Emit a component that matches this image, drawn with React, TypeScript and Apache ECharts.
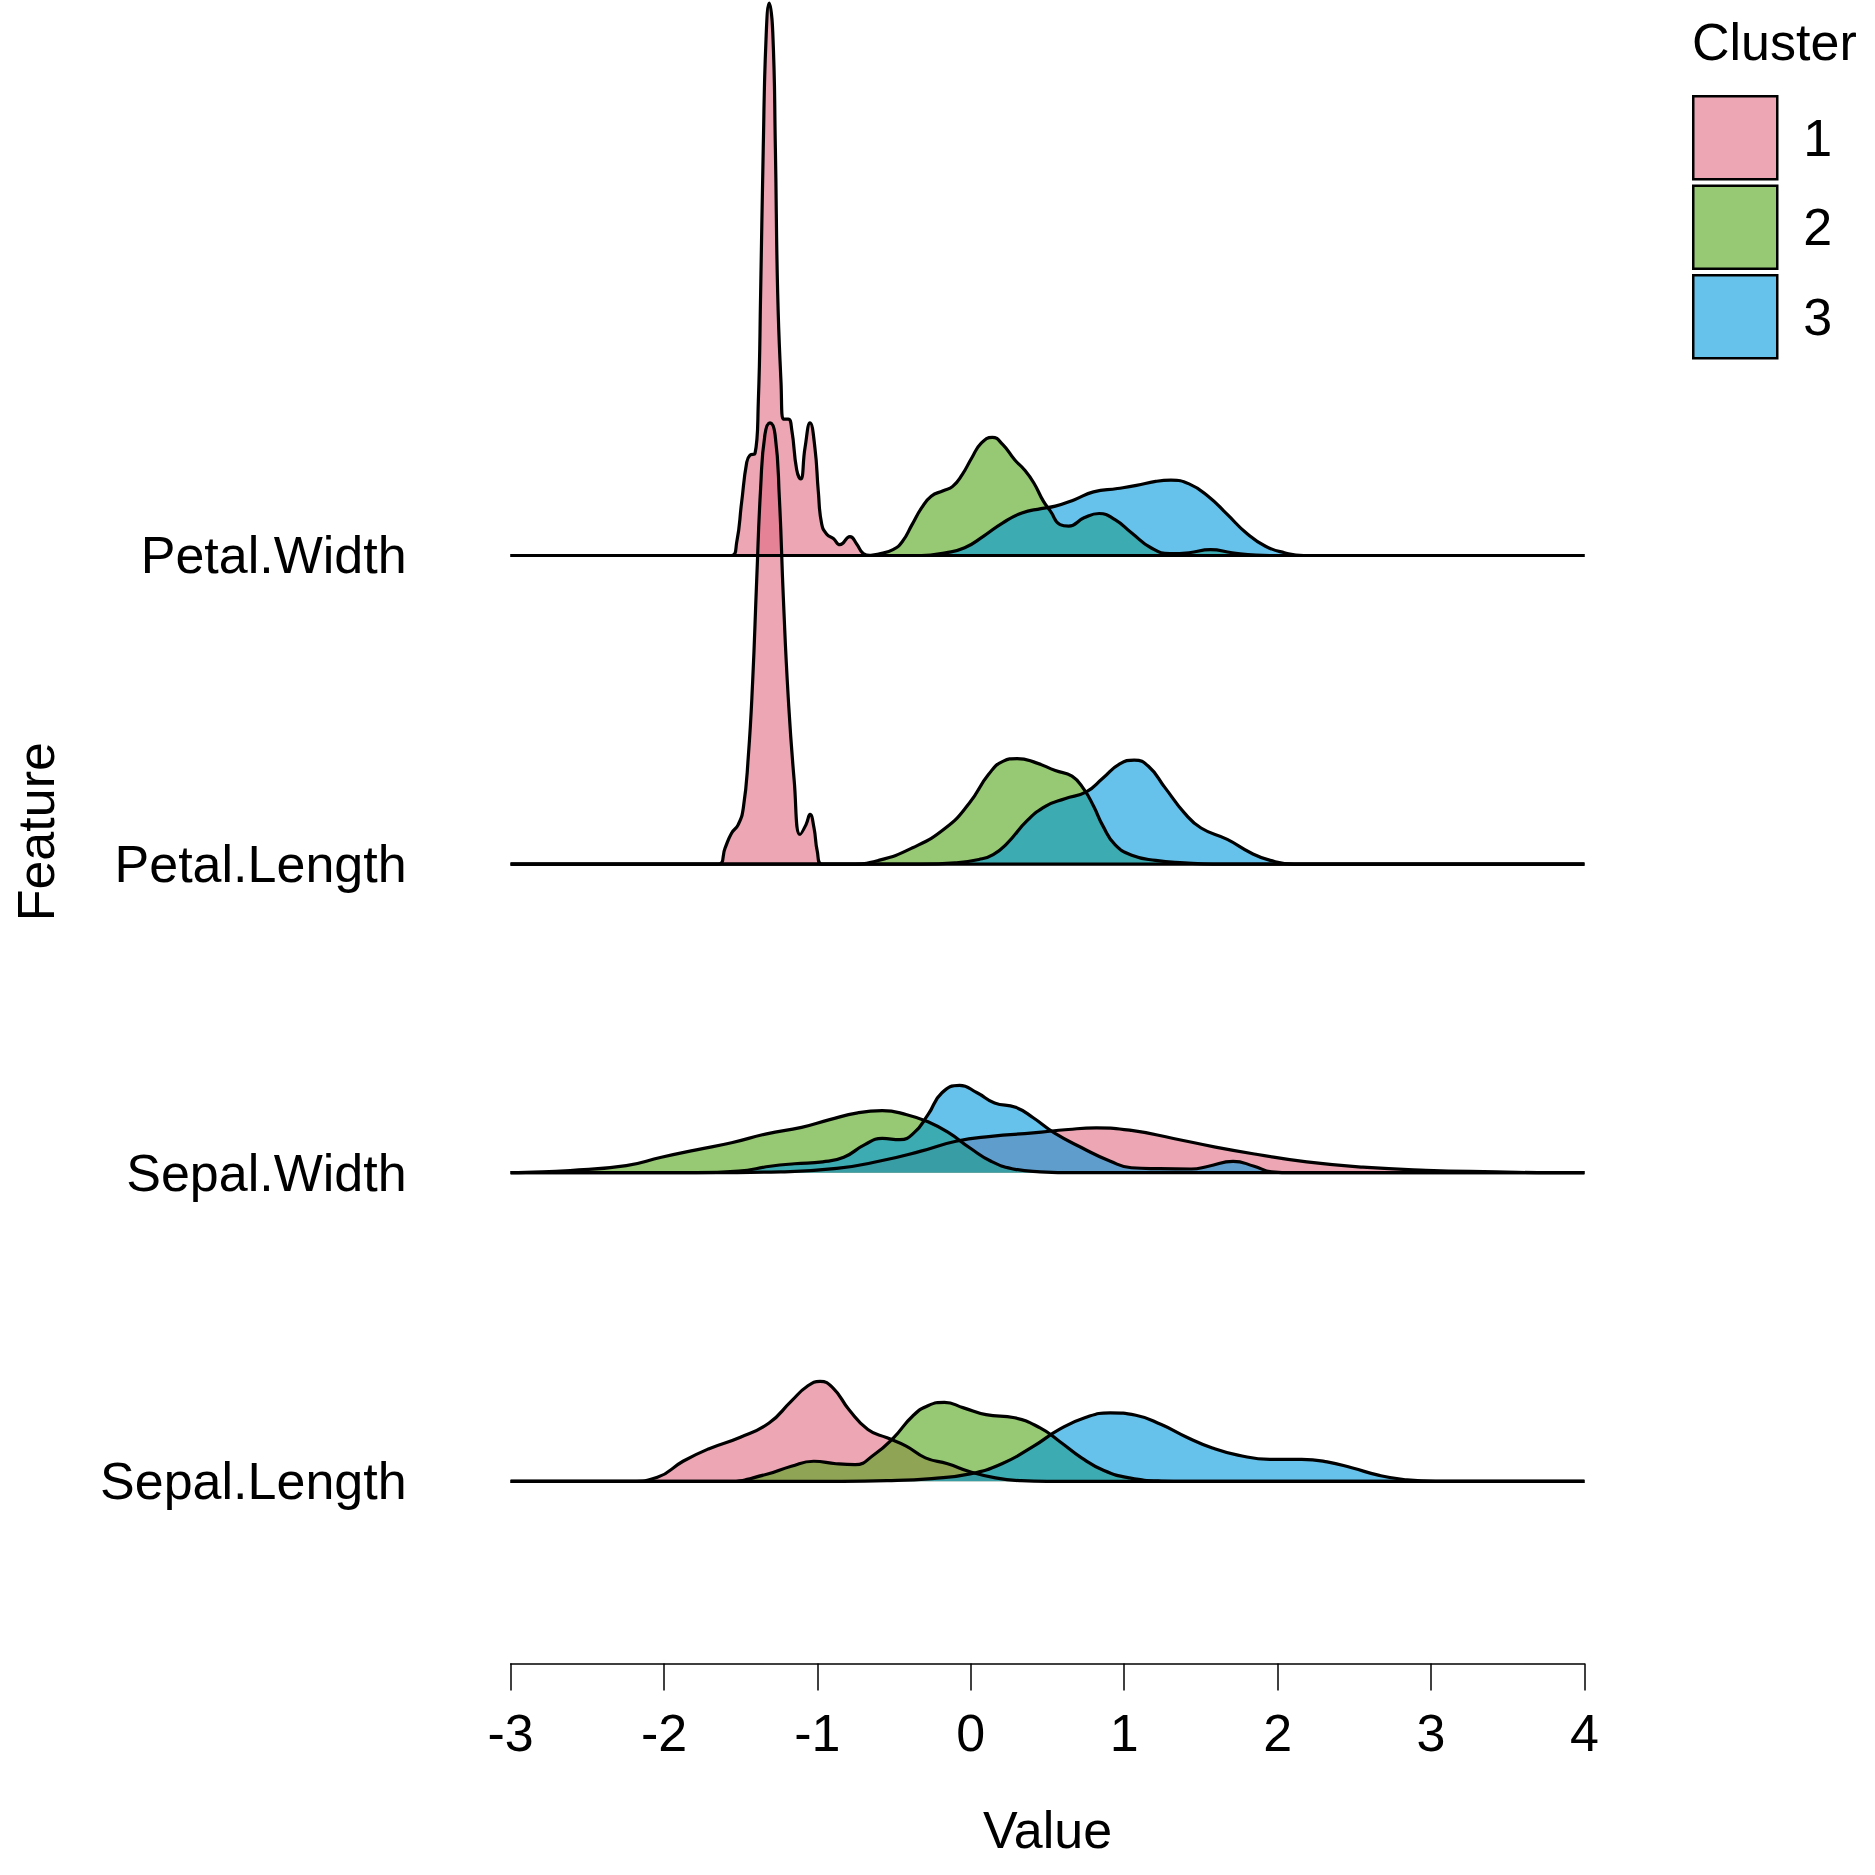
import React, { useEffect, useRef } from "react";
import * as echarts from "echarts";

// Ridge rows (baseline 1..4 from bottom)
const features = ["Sepal.Length", "Sepal.Width", "Petal.Length", "Petal.Width"];
const clusters = ["1", "2", "3"];
const clusterFills = ["rgba(225,106,130,0.6)", "rgba(82,163,22,0.6)", "rgba(0,153,220,0.6)"];
const xTicks = [-3, -2, -1, 0, 1, 2, 3, 4];

// Scaled density heights [value, height] (1 = spacing between ridges)
const petalWidth1 = [
  [-1.56, 0], [-1.526, 0.043], [-1.494, 0.172], [-1.461, 0.301], [-1.439, 0.325], [-1.407, 0.33],
  [-1.385, 0.5], [-1.37, 0.852], [-1.353, 1.321], [-1.335, 1.672], [-1.314, 1.79], [-1.291, 1.696],
  [-1.274, 1.321], [-1.259, 0.852], [-1.237, 0.559], [-1.222, 0.442], [-1.19, 0.442], [-1.167, 0.407],
  [-1.135, 0.278], [-1.109, 0.248], [-1.081, 0.348], [-1.048, 0.43], [-1.016, 0.348], [-0.994, 0.207],
  [-0.972, 0.102], [-0.939, 0.069], [-0.896, 0.055], [-0.853, 0.035], [-0.788, 0.061], [-0.744, 0.0375],
  [-0.701, 0.006], [-0.657, 0],
];
const petalWidth2 = [
  [-0.694, 0], [-0.601, 0.005], [-0.507, 0.019], [-0.445, 0.046], [-0.383, 0.1], [-0.321, 0.154],
  [-0.258, 0.192], [-0.18, 0.21], [-0.118, 0.224], [-0.056, 0.262], [0.006, 0.316], [0.068, 0.364],
  [0.14, 0.383], [0.209, 0.359], [0.286, 0.31], [0.349, 0.278], [0.411, 0.235], [0.473, 0.176],
  [0.52, 0.143], [0.582, 0.1], [0.638, 0.095], [0.738, 0.122], [0.837, 0.136], [0.94, 0.116],
  [1.049, 0.073], [1.174, 0.025], [1.298, 0.006], [1.423, 0.009], [1.563, 0.019], [1.703, 0.009],
  [1.859, 0.001], [1.95, 0],
];
const petalWidth3 = [
  [-0.321, 0], [-0.165, 0.009], [-0.04, 0.025], [0.084, 0.063], [0.209, 0.106], [0.333, 0.138],
  [0.458, 0.152], [0.551, 0.16], [0.676, 0.181], [0.8, 0.206], [0.956, 0.217], [1.08, 0.227],
  [1.205, 0.24], [1.305, 0.244], [1.423, 0.232], [1.547, 0.192], [1.672, 0.133], [1.796, 0.073],
  [1.921, 0.03], [2.045, 0.009], [2.17, 0],
];
const petalLength1 = [
  [-1.646, 0], [-1.602, 0.052], [-1.559, 0.101], [-1.516, 0.128], [-1.483, 0.182], [-1.451, 0.344],
  [-1.422, 0.593], [-1.396, 0.917], [-1.37, 1.219], [-1.342, 1.392], [-1.309, 1.43], [-1.276, 1.392],
  [-1.248, 1.187], [-1.222, 0.863], [-1.19, 0.539], [-1.151, 0.269], [-1.113, 0.096], [-1.074, 0.128],
  [-1.048, 0.161], [-1.022, 0.117], [-1.001, 0.042], [-0.972, 0],
];
const petalLength2 = [
  [-0.788, 0], [-0.601, 0.012], [-0.383, 0.052], [-0.165, 0.117], [-0.009, 0.198], [0.115, 0.29],
  [0.209, 0.333], [0.302, 0.342], [0.427, 0.328], [0.551, 0.303], [0.66, 0.285], [0.738, 0.242],
  [0.8, 0.188], [0.862, 0.123], [0.94, 0.063], [1.049, 0.029], [1.205, 0.012], [1.392, 0.004], [1.578, 0],
];
const petalLength3 = [
  [-0.321, 0], [-0.103, 0.004], [0.053, 0.015], [0.146, 0.031], [0.24, 0.069], [0.364, 0.139],
  [0.489, 0.188], [0.613, 0.212], [0.753, 0.234], [0.862, 0.279], [0.971, 0.325], [1.065, 0.337],
  [1.158, 0.317], [1.267, 0.247], [1.392, 0.166], [1.501, 0.117], [1.672, 0.08], [1.827, 0.036],
  [1.952, 0.012], [2.108, 0],
];
const sepalWidth1 = [
  [-1.697, 0], [-1.24, 0.003], [-0.874, 0.014], [-0.6, 0.037], [-0.325, 0.07], [-0.097, 0.102],
  [0.132, 0.118], [0.407, 0.129], [0.635, 0.14], [0.818, 0.145], [1.047, 0.137], [1.321, 0.111],
  [1.595, 0.083], [1.87, 0.059], [2.19, 0.035], [2.556, 0.018], [2.967, 0.008], [3.425, 0.003], [3.79, 0],
];
const sepalWidth2 = [
  [-2.9, 0.001], [-2.612, 0.007], [-2.246, 0.023], [-2.017, 0.05], [-1.789, 0.074], [-1.56, 0.097],
  [-1.331, 0.126], [-1.103, 0.147], [-0.92, 0.172], [-0.737, 0.194], [-0.577, 0.201], [-0.417, 0.188],
  [-0.279, 0.165], [-0.142, 0.129], [-0.005, 0.08], [0.132, 0.037], [0.269, 0.013], [0.452, 0.003], [0.681, 0],
];
const sepalWidth3 = [
  [-1.789, 0], [-1.514, 0.005], [-1.308, 0.021], [-1.148, 0.029], [-0.965, 0.035], [-0.828, 0.05],
  [-0.691, 0.091], [-0.577, 0.111], [-0.462, 0.107], [-0.371, 0.129], [-0.279, 0.188], [-0.188, 0.259],
  [-0.073, 0.283], [0.041, 0.259], [0.155, 0.226], [0.292, 0.212], [0.407, 0.178], [0.544, 0.129],
  [0.727, 0.08], [0.91, 0.037], [1.047, 0.016], [1.23, 0.013], [1.436, 0.012], [1.55, 0.021],
  [1.71, 0.037], [1.847, 0.021], [1.961, 0.003], [2.099, 0],
];
const sepalLength1 = [
  [-2.209, 0], [-2.043, 0.013], [-1.876, 0.065], [-1.71, 0.105], [-1.502, 0.143], [-1.315, 0.189],
  [-1.17, 0.26], [-1.066, 0.308], [-0.983, 0.324], [-0.899, 0.303], [-0.795, 0.233], [-0.671, 0.168],
  [-0.546, 0.141], [-0.421, 0.114], [-0.296, 0.076], [-0.151, 0.057], [-0.005, 0.031], [0.161, 0.011],
  [0.327, 0.002], [0.494, 0],
];
const sepalLength2 = [
  [-1.585, 0], [-1.336, 0.022], [-1.17, 0.049], [-1.024, 0.065], [-0.879, 0.057], [-0.754, 0.054],
  [-0.629, 0.087], [-0.504, 0.141], [-0.38, 0.211], [-0.276, 0.246], [-0.172, 0.256], [-0.047, 0.238],
  [0.099, 0.216], [0.286, 0.206], [0.452, 0.173], [0.577, 0.13], [0.722, 0.076], [0.868, 0.035],
  [1.034, 0.011], [1.242, 0.001], [1.408, 0],
];
const sepalLength3 = [
  [-0.837, 0], [-0.546, 0.002], [-0.255, 0.009], [-0.005, 0.024], [0.203, 0.057], [0.41, 0.114],
  [0.577, 0.168], [0.743, 0.206], [0.909, 0.222], [1.076, 0.214], [1.242, 0.184], [1.408, 0.143],
  [1.575, 0.108], [1.741, 0.085], [1.949, 0.071], [2.157, 0.071], [2.323, 0.063], [2.489, 0.043],
  [2.656, 0.02], [2.822, 0.006], [3.03, 0],
];

const ridges: { [k: string]: number[][][] } = {
  "Petal.Width": [petalWidth1, petalWidth2, petalWidth3],
  "Petal.Length": [petalLength1, petalLength2, petalLength3],
  "Sepal.Width": [sepalWidth1, sepalWidth2, sepalWidth3],
  "Sepal.Length": [sepalLength1, sepalLength2, sepalLength3],
};

const FONT = "'Liberation Sans', Arial, Helvetica, sans-serif";

export default function App() {
  const ref = useRef<HTMLDivElement>(null);
  useEffect(() => {
    if (!ref.current) return;
    const chart = echarts.init(ref.current, null, { renderer: "svg" });
    const xMin = xTicks[0];
    const xMax = xTicks[xTicks.length - 1];
    const series: any[] = [];
    const drawOrder = ["Petal.Width", "Petal.Length", "Sepal.Width", "Sepal.Length"];
    drawOrder.forEach((feat) => {
      const base = features.indexOf(feat) + 1;
      ridges[feat].forEach((pts, c) => {
        series.push({
          type: "line",
          name: clusters[c],
          data: [[xMin, base], ...pts.map((p) => [p[0], base + p[1]]), [xMax, base]],
          showSymbol: false,
          symbol: "none",
          smooth: 0.5,
          clip: false,
          silent: true,
          lineStyle: { color: "#000", width: 3.2, join: "round" },
          itemStyle: { color: clusterFills[c] },
          areaStyle: { color: clusterFills[c], opacity: 1, origin: base },
        });
      });
    });
    series.push({
      type: "scatter",
      name: "labels",
      data: features.map((f, i) => ({ name: f, value: [xMin, i + 1] })),
      symbolSize: 0,
      silent: true,
      itemStyle: { opacity: 1 },
      label: {
        show: true,
        position: "left",
        distance: 104,
        formatter: "{b}",
        fontSize: 52,
        color: "#000",
        opacity: 1,
        fontFamily: FONT,
      },
    });

    chart.setOption({
      animation: false,
      backgroundColor: "#fff",
      textStyle: { fontFamily: FONT, color: "#000" },
      title: {
        text: "Cluster",
        left: 1692,
        top: 16,
        padding: 0,
        textStyle: { fontSize: 52, fontWeight: "normal", color: "#000", fontFamily: FONT },
      },
      legend: {
        orient: "vertical",
        left: 1692,
        top: 95,
        padding: 0,
        itemWidth: 84,
        itemHeight: 83,
        itemGap: 4,
        icon: "rect",
        selectedMode: false,
        textStyle: { fontSize: 52, color: "#000", fontFamily: FONT, padding: [0, 0, 0, 21] },
        data: clusters.map((c, i) => ({
          name: c,
          itemStyle: { color: clusterFills[i], borderColor: "#000", borderWidth: 2.5 },
        })),
      },
      grid: { left: 510.6, right: 290.6, top: 0, bottom: 211.6 },
      xAxis: {
        type: "value",
        min: xMin,
        max: xMax,
        interval: 1,
        name: "Value",
        nameLocation: "middle",
        nameGap: 141,
        nameTextStyle: { fontSize: 52, color: "#000", fontFamily: FONT },
        axisLine: { show: true, lineStyle: { color: "#000", width: 1.5 } },
        axisTick: { show: true, length: 27, lineStyle: { color: "#000", width: 1.5 } },
        axisLabel: { fontSize: 52, color: "#000", margin: 44, fontFamily: FONT },
        splitLine: { show: false },
      },
      yAxis: {
        type: "value",
        min: 0.41,
        max: 5.8,
        name: "Feature",
        nameLocation: "middle",
        nameRotate: 90,
        nameGap: 449,
        nameTextStyle: { fontSize: 52, color: "#000", fontFamily: FONT },
        axisLine: { show: false },
        axisTick: { show: false },
        axisLabel: { show: false },
        splitLine: { show: false },
      },
      series,
    });
    return () => chart.dispose();
  }, []);
  return (
    <div
      ref={ref}
      style={{ position: "absolute", left: 0, top: 0, width: 1875, height: 1875 }}
    />
  );
}
